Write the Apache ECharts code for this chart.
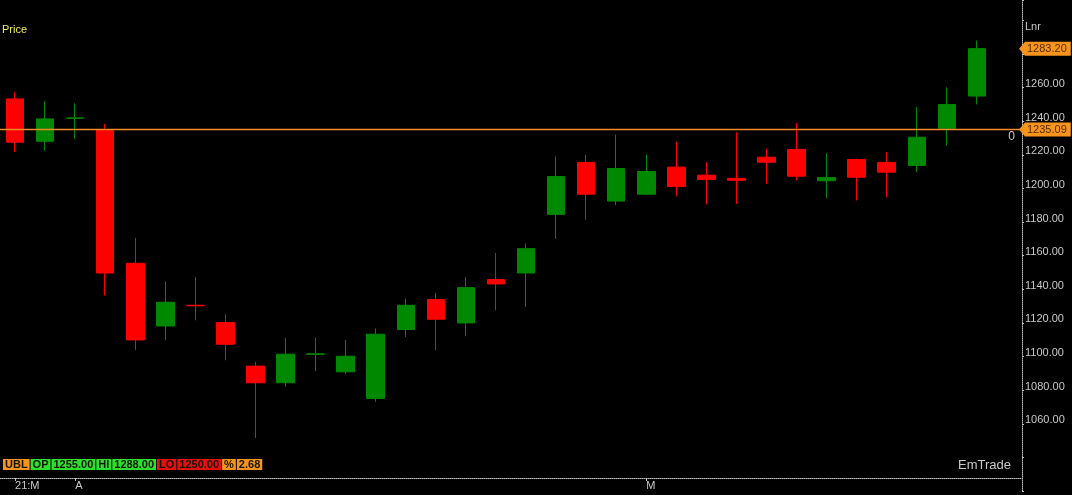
<!DOCTYPE html>
<html>
<head>
<meta charset="utf-8">
<script src="https://cdn.jsdelivr.net/npm/echarts/dist/echarts.min.js"></script>
<style>
  html, body { margin: 0; padding: 0; background: #000; }
  #chart { width: 1072px; height: 495px; }
</style>
</head>
<body>
<div id="chart"></div>
<script>
// one bar per period
const opens  = [1253.3, 1228.1, 1241.8, 1234.9, 1155.5, 1118.2, 1130.5, 1120.2, 1094.3, 1084.4, 1101.3,
                1090.9, 1075.1, 1116.1, 1133.9, 1120.0, 1145.8, 1149.7, 1184.6, 1215.5, 1192.5, 1196.6,
                1212.7, 1207.9, 1206.0, 1218.6, 1223.2, 1204.6, 1217.2, 1215.5, 1213.7, 1235.8, 1255.0]
const closes = [1227.5, 1241.4, 1242.0, 1149.7, 1109.9, 1132.3, 1130.2, 1107.3, 1084.4, 1101.4, 1101.6,
                1100.2, 1113.3, 1130.5, 1122.2, 1141.0, 1143.2, 1164.2, 1207.1, 1196.6, 1211.9, 1210.1,
                1201.2, 1205.4, 1204.9, 1215.6, 1207.3, 1206.5, 1206.7, 1209.7, 1230.5, 1249.9, 1283.2]
const lows   = [1221.6, 1222.6, 1229.5, 1136.4, 1103.8, 1109.7, 1121.6, 1097.8, 1051.5, 1082.0, 1091.3,
                1089.7, 1073.1, 1111.7, 1103.8, 1112.1, 1127.5, 1129.5, 1169.9, 1181.4, 1190.1, 1196.0,
                1195.3, 1190.5, 1190.9, 1202.8, 1204.8, 1194.2, 1192.9, 1194.8, 1209.7, 1225.5, 1250.0]
const highs  = [1257.2, 1251.9, 1250.7, 1238.4, 1170.5, 1144.8, 1147.3, 1125.2, 1096.8, 1111.1, 1111.3,
                1109.9, 1116.7, 1134.5, 1138.0, 1147.3, 1161.6, 1167.2, 1219.0, 1220.2, 1232.1, 1220.2,
                1227.9, 1215.6, 1233.4, 1223.6, 1238.8, 1221.0, 1217.8, 1221.6, 1248.3, 1260.2, 1288.0]

// 34 slots: 33 bars plus one empty slot before the price axis
const periods = Array.from({ length: 34 }, (_, i) => String(i + 1))
const periodTicks = { 0: '21:M', 2: 'A', 21: 'M' }

const yTicksShown = [1060, 1080, 1100, 1120, 1140, 1160, 1180, 1200, 1220, 1240, 1260]
const refLevel = 1235.09
const lastClose = 1283.20

const UP = '#008800'
const DOWN = '#ff0000'
const TAG = '#f7941d'
const REF_LINE = '#f08a2a'
const AXIS_TEXT = '#c8c8c8'

const candles = opens.map((o, i) => [o, closes[i], lows[i], highs[i]])

const seg = (bg) => ({
  backgroundColor: bg, color: '#141400', fontSize: 11, lineHeight: 11, height: 11,
  padding: [0, 2, 0, 2], fontFamily: 'Liberation Sans',
})

const chart = echarts.init(document.getElementById('chart'))

const option = {
  backgroundColor: '#000',
  animation: false,
  textStyle: { fontFamily: 'Liberation Sans, Arial, sans-serif' },
  title: [
    { text: 'Price', left: 2, top: 24, padding: 0,
      textStyle: { color: '#ecec50', fontSize: 11, fontWeight: 'normal' } },
    { text: 'Lnr', left: 1025, top: 21, padding: 0,
      textStyle: { color: AXIS_TEXT, fontSize: 11, fontWeight: 'normal' } },
    { text: 'EmTrade', right: 61, top: 459, padding: 0,
      textStyle: { color: AXIS_TEXT, fontSize: 13, fontWeight: 'normal' } },
    {
      left: 3, top: 459, padding: 0,
      text: '{o|UBL}{g| }{gr|OP}{g| }{gr|1255.00}{g| }{gr|HI}{g| }{gr|1288.00}{g| }'
          + '{r|LO}{g| }{r|1250.00}{g| }{o|%}{g| }{o|2.68}',
      textStyle: {
        rich: {
          o: seg(TAG),
          gr: seg('#2ee02e'),
          r: seg('#e41010'),
          g: { width: 1, fontSize: 11, height: 11 },
        },
      },
    },
  ],
  grid: { left: 0, right: 50, top: 0, bottom: 4 },
  xAxis: {
    type: 'category',
    data: periods,
    boundaryGap: true,
    offset: -13,
    axisLine: { lineStyle: { color: '#c0c0c0', type: 'dotted', width: 1 } },
    axisTick: {
      show: true, length: 3, alignWithLabel: true,
      interval: (i) => periodTicks[i] !== undefined,
      lineStyle: { color: '#c0c0c0' },
    },
    axisLabel: {
      interval: (i) => periodTicks[i] !== undefined,
      formatter: (v, i) => periodTicks[i] || '',
      align: 'left', margin: 2, color: AXIS_TEXT, fontSize: 11,
    },
    splitLine: { show: false },
  },
  yAxis: {
    type: 'value',
    position: 'right',
    min: 1020,
    max: 1312.14,
    interval: 20,
    axisLine: { show: true, lineStyle: { color: '#c0c0c0', type: 'dotted', width: 1 } },
    axisTick: { show: true, length: 2, lineStyle: { color: '#c0c0c0' } },
    axisLabel: {
      margin: 3, color: AXIS_TEXT, fontSize: 11, align: 'left',
      verticalAlign: 'bottom', lineHeight: 7,
      formatter: (v) => yTicksShown.includes(Math.round(v * 100) / 100) ? v.toFixed(2) : '',
    },
    splitLine: { show: false },
  },
  series: [
    {
      type: 'candlestick',
      data: candles,
      barWidth: 18,
      itemStyle: {
        color: UP, color0: DOWN, borderColor: UP, borderColor0: DOWN, borderWidth: 1,
      },
    },
    {
      // reference level line with its "0" marker
      type: 'line',
      data: [],
      color: REF_LINE,
      markLine: {
        silent: true,
        symbol: ['none', 'none'],
        lineStyle: { color: REF_LINE, width: 1.4, type: 'solid', opacity: 1 },
        emphasis: { disabled: true },
        label: {
          position: 'insideEndBottom', formatter: '0', color: AXIS_TEXT, fontSize: 12,
          distance: [7, 1],
        },
        data: [{ yAxis: refLevel }],
      },
    },
    {
      // price tags on the axis
      type: 'line',
      data: [],
      color: TAG,
      markLine: {
        silent: true,
        symbol: ['none', 'triangle'],
        symbolSize: [14, 6],
        symbolRotate: 90,
        lineStyle: { color: TAG, width: 0 },
        label: {
          position: 'end', distance: 3, color: '#5a2d00', backgroundColor: TAG,
          fontSize: 11, lineHeight: 12, padding: [1, 4, 1, 2],
          formatter: (p) => p.value.toFixed(2),
        },
        data: [{ yAxis: lastClose }, { yAxis: refLevel }],
      },
    },
  ],
}

chart.setOption(option)
</script>
</body>
</html>
